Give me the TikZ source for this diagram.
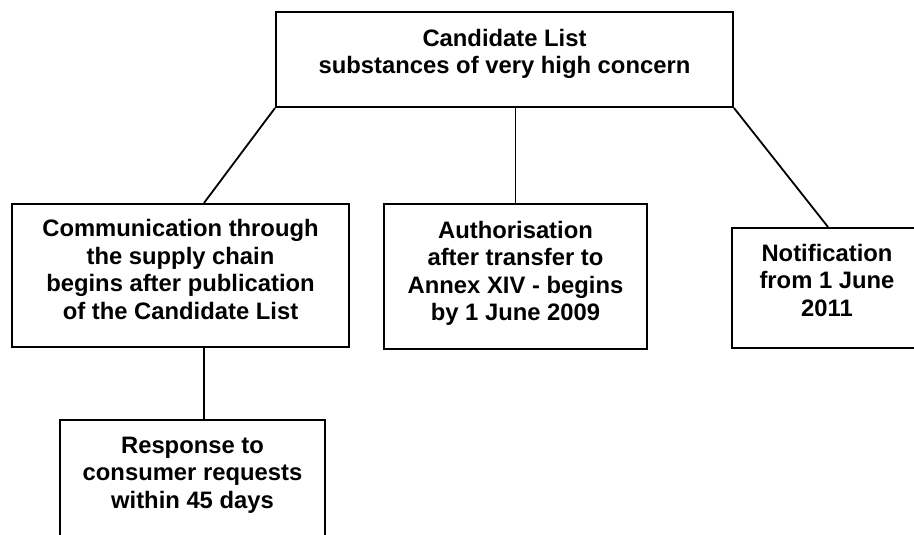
\documentclass[tikz,border=0pt]{standalone}
\usepackage{fontspec}
\setmainfont{Liberation Sans}
\usetikzlibrary{calc}
\begin{document}
\begin{tikzpicture}[x=1pt,y=-1pt,
  box/.style={draw=black, line width=2pt, rectangle, align=center, inner sep=0pt,
    font=\bfseries\fontsize{23.8}{27.5}\selectfont},
  link/.style={draw=black, line width=1.8pt}]
\useasboundingbox (0,0) rectangle (914,535);
\clip (0,0) rectangle (914,535);
\fill[white] (0,0) rectangle (914,535);
\node[box, minimum width=457pt, minimum height=95pt, text depth=16pt] (top) at (504.5,59.5)
  {Candidate List\\substances of very high concern};
\node[box, minimum width=337pt, minimum height=143pt, text depth=12pt] (left) at (180.5,275.5)
  {Communication through\\the supply chain\\begins after publication\\of the Candidate List};
\node[box, minimum width=263pt, minimum height=145pt, text depth=11pt] (mid) at (515.5,276.5)
  {Authorisation\\after transfer to\\Annex XIV - begins\\by 1 June 2009};
\node[box, minimum width=190pt, minimum height=120pt, text depth=16pt] (right) at (827,288)
  {Notification\\from 1 June\\2011};
\node[box, minimum width=265pt, minimum height=150pt, text depth=45pt] (bot) at (192.5,495)
  {Response to\\consumer requests\\within 45 days};
\draw[link] (top.south west) -- ([xshift=23.5pt]left.north);
\draw[link] (top.south east) -- ([xshift=1pt]right.north);
\draw[link] (mid.north) -- (mid.north |- top.south);
\draw[link] ([xshift=23.5pt]left.south) -- ([xshift=23.5pt]left.south |- bot.north);
\end{tikzpicture}
\end{document}
